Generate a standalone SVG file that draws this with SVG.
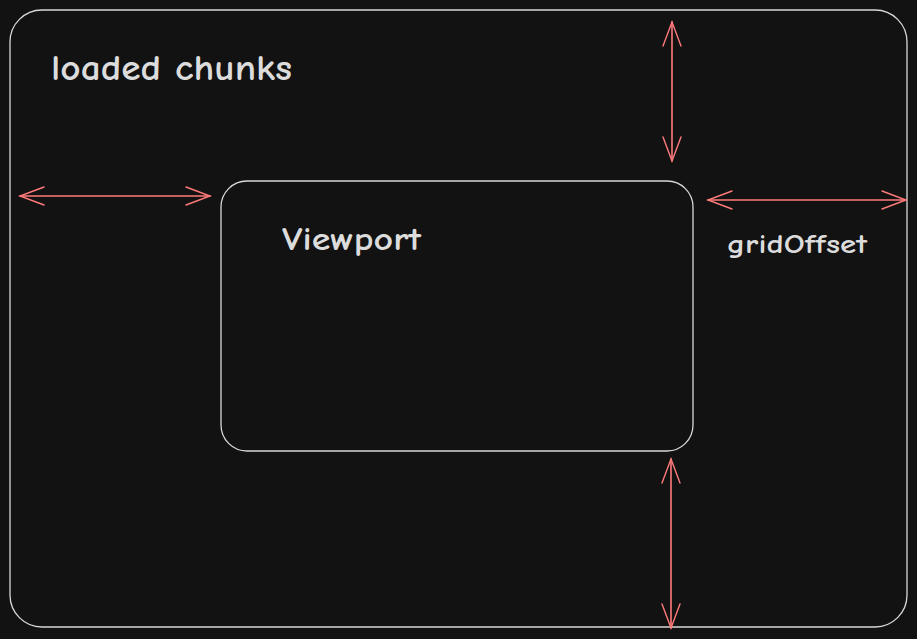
<svg xmlns="http://www.w3.org/2000/svg" width="917" height="639" viewBox="0 0 917 639">
<style>
.box{fill:none;stroke:#d8d8d8;stroke-width:1.3}
.lbl{fill:#dcdcdc;font-family:"Comic Neue","Liberation Sans","Open Sans",sans-serif;font-weight:bold}
.arr{fill:none;stroke:#ff7b7b;stroke-width:1.6;stroke-linecap:round;marker-start:url(#ah);marker-end:url(#ah)}
</style>
<defs>
<marker id="ah" viewBox="-26 -10 28 20" refX="0" refY="0" markerWidth="28" markerHeight="20" markerUnits="userSpaceOnUse" orient="auto-start-reverse">
<path d="M-24,-9 L0,0 L-24,9" fill="none" stroke="#ff7b7b" stroke-width="1.4" stroke-linecap="round"/>
</marker>
</defs>
<rect width="917" height="639" fill="#121212"/>
<g id="loaded-chunks">
<rect class="box" x="10" y="10" width="897" height="617" rx="32"/>
<text class="lbl" x="51" y="80" font-size="37" textLength="241" lengthAdjust="spacingAndGlyphs">loaded chunks</text>
</g>
<g id="viewport">
<rect class="box" x="221" y="181" width="472" height="270" rx="26"/>
<text class="lbl" x="282" y="250" font-size="32" textLength="139" lengthAdjust="spacingAndGlyphs">Viewport</text>
</g>
<g id="gridoffset-label">
<text class="lbl" x="727" y="253" font-size="27" textLength="140" lengthAdjust="spacingAndGlyphs">gridOffset</text>
</g>
<g id="connectors">
<line class="arr" x1="20" y1="196" x2="210" y2="196"/>
<line class="arr" x1="672" y1="22" x2="672" y2="161"/>
<line class="arr" x1="708" y1="200" x2="906" y2="200"/>
<line class="arr" x1="671" y1="459" x2="671" y2="628"/>
</g>
</svg>
